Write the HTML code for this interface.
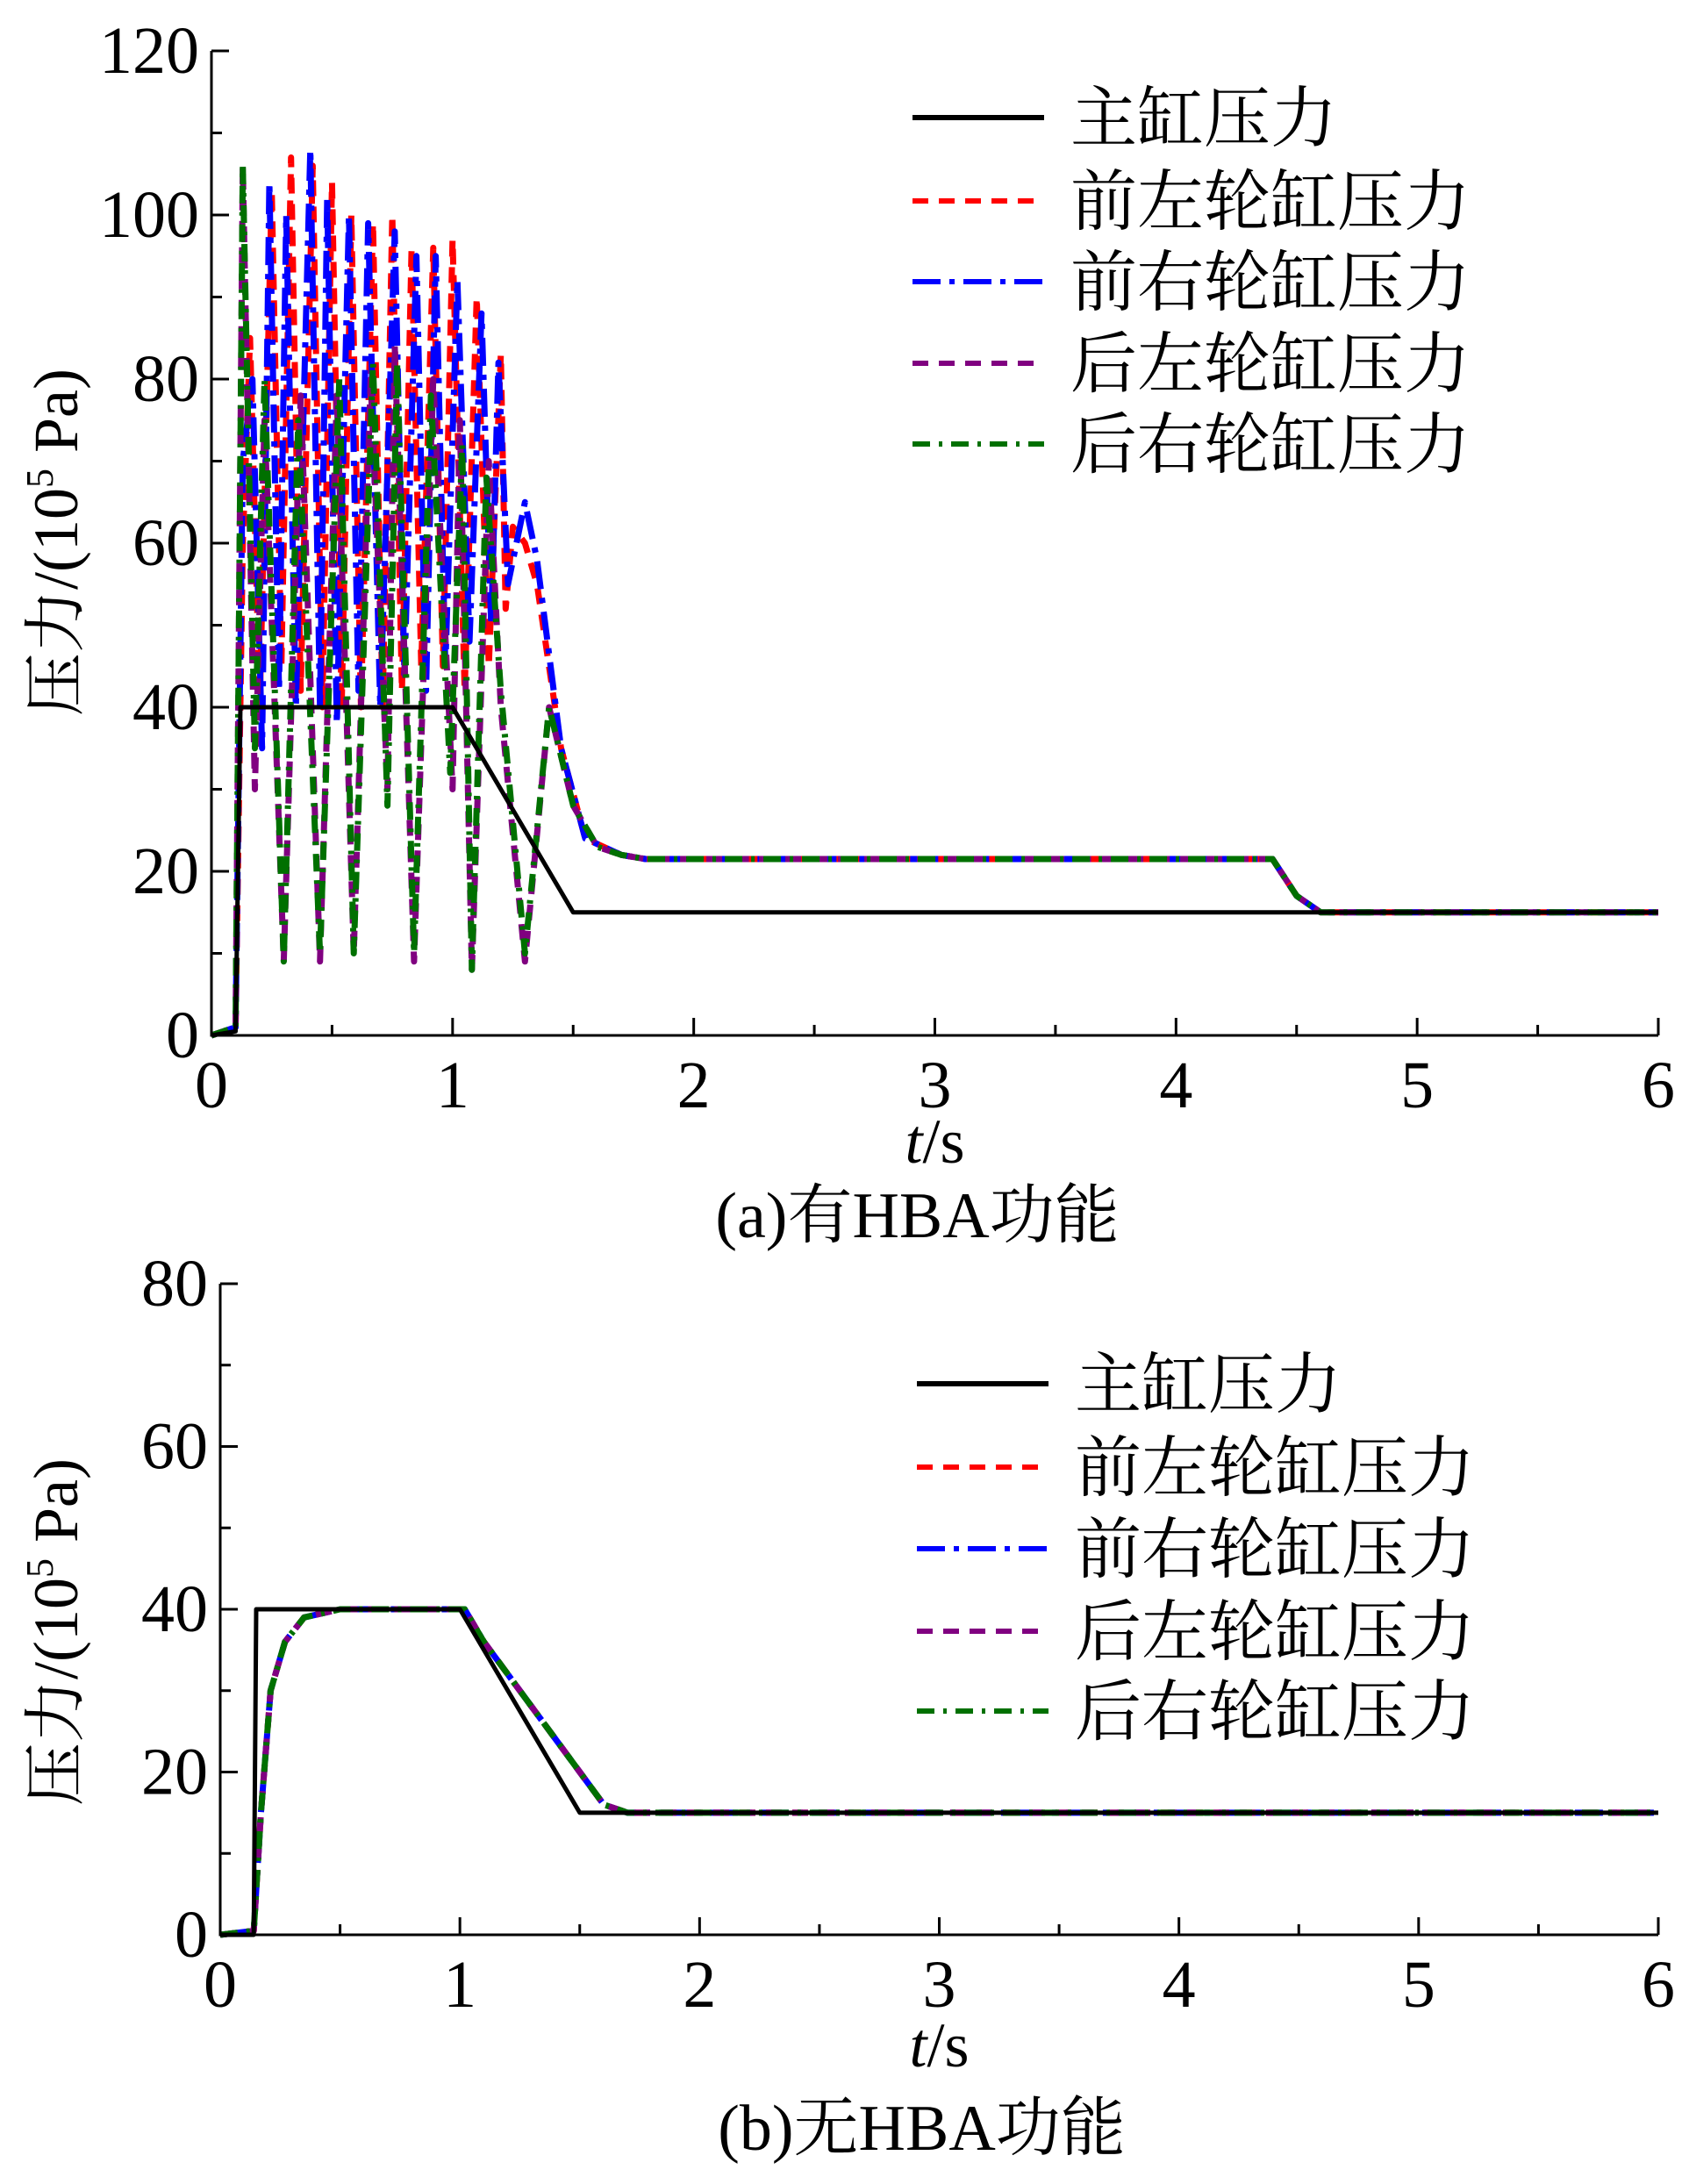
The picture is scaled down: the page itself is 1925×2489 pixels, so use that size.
<!DOCTYPE html>
<html><head><meta charset="utf-8"><style>
html,body{margin:0;padding:0;background:#fff}
svg{display:block}
text{font-family:"Liberation Serif","Noto Serif CJK SC",serif;fill:#000}
</style></head><body>
<svg id="svg" width="1925" height="2489" viewBox="0 0 1925 2489" xmlns="http://www.w3.org/2000/svg"></svg>
<script>
// ---- chart (a) data: [t, value] ----
const aMaster = [[0,0],[0.1,0.5],[0.12,40],[1.0,40],[1.5,15],[6,15]];
const aFrontLeft = [[0,0],[0.1,1],[0.13,60],[0.16,85],[0.2,40],[0.25,103],[0.29,45],[0.33,107],[0.37,42],[0.42,106],[0.46,40],[0.5,104],[0.54,40],[0.58,100],[0.62,40],[0.67,99],[0.71,40],[0.75,100],[0.79,42],[0.83,96],[0.87,45],[0.92,96],[0.96,45],[1.0,97],[1.05,42],[1.1,90],[1.15,45],[1.2,83],[1.22,52],[1.25,62],[1.3,60],[1.35,55],[1.45,35],[1.55,24],[1.7,22],[1.8,21.5],[4.4,21.5],[4.5,17],[4.6,15],[6,15]];
const aFrontRight = [[0,0],[0.1,1],[0.13,70],[0.17,80],[0.21,35],[0.24,104],[0.28,42],[0.31,100],[0.35,40],[0.41,108],[0.45,40],[0.48,102],[0.52,38],[0.57,100],[0.61,42],[0.65,99],[0.7,40],[0.76,98],[0.8,44],[0.85,95],[0.89,42],[0.93,95],[0.97,45],[1.02,92],[1.07,48],[1.12,88],[1.16,50],[1.19,82],[1.23,55],[1.3,65],[1.35,58],[1.45,35],[1.55,24],[1.7,22],[1.8,21.5],[4.4,21.5],[4.5,17],[4.6,15],[6,15]];
const aRearLeft = [[0,0],[0.1,1],[0.13,106],[0.18,30],[0.22,75],[0.3,9],[0.37,78],[0.45,9],[0.52,78],[0.59,10],[0.66,80],[0.73,30],[0.76,84],[0.84,9],[0.92,80],[1.0,30],[1.03,75],[1.08,8],[1.15,70],[1.2,40],[1.3,9],[1.4,40],[1.5,28],[1.6,23],[1.7,22],[1.8,21.5],[4.4,21.5],[4.5,17],[4.6,15],[6,15]];
const aRearRight = [[0,0],[0.1,1],[0.13,106],[0.18,35],[0.22,80],[0.3,9],[0.36,75],[0.45,10],[0.53,80],[0.59,10],[0.67,82],[0.73,28],[0.77,82],[0.84,10],[0.91,78],[0.99,32],[1.04,72],[1.08,8],[1.14,68],[1.2,42],[1.3,10],[1.4,40],[1.5,28],[1.6,23],[1.7,22],[1.8,21.5],[4.4,21.5],[4.5,17],[4.6,15],[6,15]];
// ---- chart (b) data ----
const bMaster = [[0,0],[0.14,0],[0.15,40],[1.0,40],[1.5,15],[6,15]];
const bWheel = [[0,0],[0.14,0.5],[0.17,15],[0.21,30],[0.27,36],[0.35,39],[0.5,40],[1.02,40],[1.1,36],[1.5,20],[1.6,16],[1.7,15],[6,15]];
const xTicks = [0,1,2,3,4,5,6];
const aYTicks = [0,20,40,60,80,100,120];
const bYTicks = [0,20,40,60,80];
const legendLabels = ["主缸压力","前左轮缸压力","前右轮缸压力","后左轮缸压力","后右轮缸压力"];

const NS="http://www.w3.org/2000/svg";
const svg=document.getElementById('svg');
function mk(tag,attrs,parent){const e=document.createElementNS(NS,tag);for(const k in attrs)e.setAttribute(k,attrs[k]);(parent||svg).appendChild(e);return e;}
const styles=[
 {c:'#000',d:'none',w:5},
 {c:'#ff0000',d:'18,12',w:7},
 {c:'#0000ff',d:'32,10,6,10',w:7},
 {c:'#800080',d:'18,12',w:7},
 {c:'#007000',d:'20,10,4,10',w:7}];

function chart(cfg){
 const g=mk('g',{});
 
 
 const X=t=>cfg.x0+(cfg.x1-cfg.x0)*t/6;
 const Y=v=>cfg.y0-(cfg.y0-cfg.y1)*v/cfg.ymax;
 cfg.series.forEach((s,i)=>{
  const st=styles[cfg.styleIdx[i]];
  const p=mk('polyline',{points:s.map(q=>X(q[0]).toFixed(1)+','+Y(q[1]).toFixed(1)).join(' '),fill:'none',stroke:st.c,'stroke-width':st.w,'stroke-dasharray':st.d,'stroke-linejoin':'round'},g);
  
  
 });
 const ax=mk('path',{d:`M${cfg.x0},${cfg.y1} V${cfg.y0} H${cfg.x1}`,fill:'none',stroke:'#000','stroke-width':3},g);
 
 
 for(let t=0;t<=6.001;t+=0.5){const maj=Math.abs(t-Math.round(t))<0.01;mk('line',{x1:X(t),x2:X(t),y1:cfg.y0,y2:cfg.y0-(maj?20:12),stroke:'#000','stroke-width':3},g);}
 const yStep=cfg.ymax/ (cfg.yTicks.length-1)/2;
 for(let v=0;v<=cfg.ymax+0.01;v+=yStep){const maj=Math.abs((v/(yStep*2))-Math.round(v/(yStep*2)))<0.01;mk('line',{x1:cfg.x0,x2:cfg.x0+(maj?20:12),y1:Y(v),y2:Y(v),stroke:'#000','stroke-width':3},g);}
 xTicks.forEach(t=>{const e=mk('text',{x:X(t),y:cfg.y0+82,'font-size':76,'text-anchor':'middle'},g);e.textContent=t;});
 cfg.yTicks.forEach(v=>{const e=mk('text',{x:cfg.x0-14,y:Y(v)+25,'font-size':76,'text-anchor':'end'},g);e.textContent=v;});
 const yt=mk('text',{x:0,y:0,'font-size':72,'text-anchor':'middle',transform:`translate(${cfg.ytx},${cfg.yty}) rotate(-90)`},g);
 yt.innerHTML='压力/(10<tspan dy="-28" font-size="44">5</tspan><tspan dy="28"> Pa)</tspan>';
 
 const xt=mk('text',{x:(cfg.x0+cfg.x1)/2,y:cfg.xty,'font-size':72,'text-anchor':'middle'},g);
 xt.innerHTML='<tspan font-style="italic">t</tspan>/s';
 
 const cap=mk('text',{x:(cfg.x0+cfg.x1)/2-20,y:cfg.capy,'font-size':74,'text-anchor':'middle'},g);
 cap.textContent=cfg.caption;
 
 legendLabels.forEach((l,i)=>{
  const st=styles[i];const ly=cfg.legY[i];
  const lg=mk('g',{},g);
  
  mk('line',{x1:cfg.legX,x2:cfg.legX+150,y1:ly,y2:ly,stroke:st.c,'stroke-width':6,'stroke-dasharray':st.d},lg);
  const e=mk('text',{x:cfg.legX+180,y:ly+27,'font-size':76},lg);e.textContent=l;
 });
}
chart({name:'chart-a-with-hba',x0:241,x1:1890,y0:1180,y1:58,ymax:120,yTicks:aYTicks,
 series:[aFrontLeft,aFrontRight,aRearLeft,aRearRight,aMaster],styleIdx:[1,2,3,4,0],
 seriesNames:['front-left','front-right','rear-left','rear-right','master'],
 ytx:88,yty:618,xty:1325,capy:1410,caption:'(a)有HBA功能',legX:1040,legY:[134,229,321,414,506]});
chart({name:'chart-b-without-hba',x0:251,x1:1890,y0:2205,y1:1463,ymax:80,yTicks:bYTicks,
 series:[bWheel,bWheel,bWheel,bWheel,bMaster],styleIdx:[1,2,3,4,0],
 seriesNames:['front-left','front-right','rear-left','rear-right','master'],
 ytx:88,yty:1860,xty:2355,capy:2450,caption:'(b)无HBA功能',legX:1045,legY:[1577,1672,1765,1859,1950]});
</script>
</body></html>
